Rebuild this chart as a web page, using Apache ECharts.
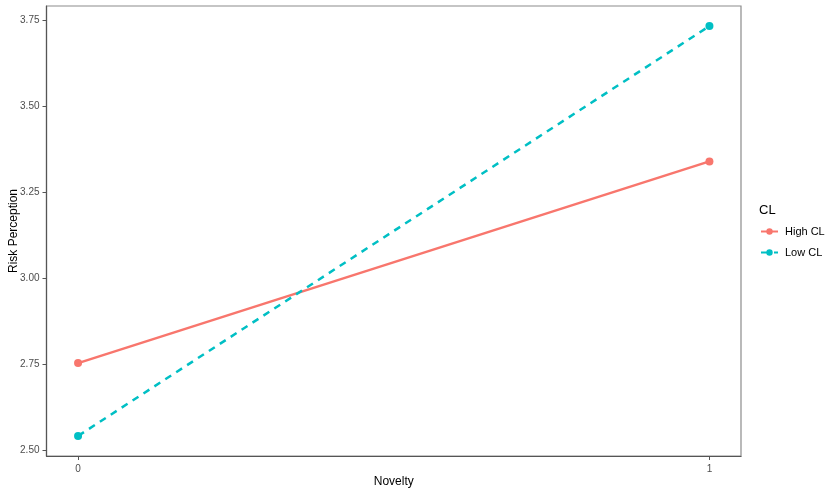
<!DOCTYPE html>
<html>
<head>
<meta charset="utf-8">
<script src="https://cdn.jsdelivr.net/npm/echarts@6/dist/echarts.min.js"></script>
<style>html,body{margin:0;padding:0;background:#fff;}#c{width:829px;height:494px;}</style>
</head>
<body>
<div id="c"></div>
<script>
var novelty = [0, 1];
var highCL = [2.753, 3.340];
var lowCL = [2.541, 3.734];
var yTicks = [2.50, 2.75, 3.00, 3.25, 3.50, 3.75];
var xTicks = [0, 1];
var seriesNames = ['High CL', 'Low CL'];
var colors = ['#F8766D', '#00BFC4'];

var chart = echarts.init(document.getElementById('c'), null, {renderer: 'canvas'});
var font = 'Liberation Sans, Arial, sans-serif';
function pairs(ys) { return novelty.map(function (x, i) { return [x, ys[i]]; }); }

chart.setOption({
  animation: false,
  backgroundColor: '#ffffff',
  title: {
    text: 'CL', left: 754, top: 199,
    textStyle: {fontFamily: font, fontSize: 13, fontWeight: 'normal', color: '#000'}
  },
  legend: {
    orient: 'vertical', left: 755, top: 221, itemGap: 10,
    itemWidth: 17, itemHeight: 8,
    data: seriesNames,
    textStyle: {fontFamily: font, fontSize: 11, color: '#000', padding: [0, 0, 0, 2]}
  },
  grid: {left: 46.5, right: 88, top: 6, bottom: 38, show: true, borderColor: '#8c8c8c', borderWidth: 1.2,
    containLabel: false, outerBoundsMode: 'none'},
  xAxis: {
    type: 'value', min: -0.05, max: 1.05,
    name: 'Novelty', nameLocation: 'middle', nameGap: 20, nameMoveOverlap: false,
    nameTextStyle: {fontFamily: font, fontSize: 12, color: '#000'},
    splitLine: {show: false},
    axisLine: {show: true, onZero: false, lineStyle: {color: '#555', width: 1.2}},
    axisTick: {show: true, length: 4, customValues: xTicks, lineStyle: {color: '#555'}},
    axisLabel: {customValues: xTicks, fontFamily: font, fontSize: 10, color: '#4d4d4d', margin: 8}
  },
  yAxis: {
    type: 'value', min: 2.4826, max: 3.7923,
    name: 'Risk Perception', nameLocation: 'middle', nameGap: 27, nameRotate: 90, nameMoveOverlap: false,
    nameTextStyle: {fontFamily: font, fontSize: 12, color: '#000'},
    splitLine: {show: false},
    axisLine: {show: true, onZero: false, lineStyle: {color: '#555', width: 1.2}},
    axisTick: {show: true, length: 4, customValues: yTicks, lineStyle: {color: '#555'}},
    axisLabel: {customValues: yTicks, fontFamily: font, fontSize: 10, color: '#4d4d4d', margin: 7,
      formatter: function (v) { return v.toFixed(2); }}
  },
  series: [
    {
      name: seriesNames[0], type: 'line', data: pairs(highCL),
      symbol: 'circle', symbolSize: 8, color: colors[0],
      lineStyle: {width: 2.5, color: colors[0], type: 'solid'},
      itemStyle: {color: colors[0]}
    },
    {
      name: seriesNames[1], type: 'line', data: pairs(lowCL),
      symbol: 'circle', symbolSize: 8, color: colors[1],
      lineStyle: {width: 2.5, color: colors[1], type: [7, 6]},
      itemStyle: {color: colors[1]}
    }
  ]
});
</script>
</body>
</html>
